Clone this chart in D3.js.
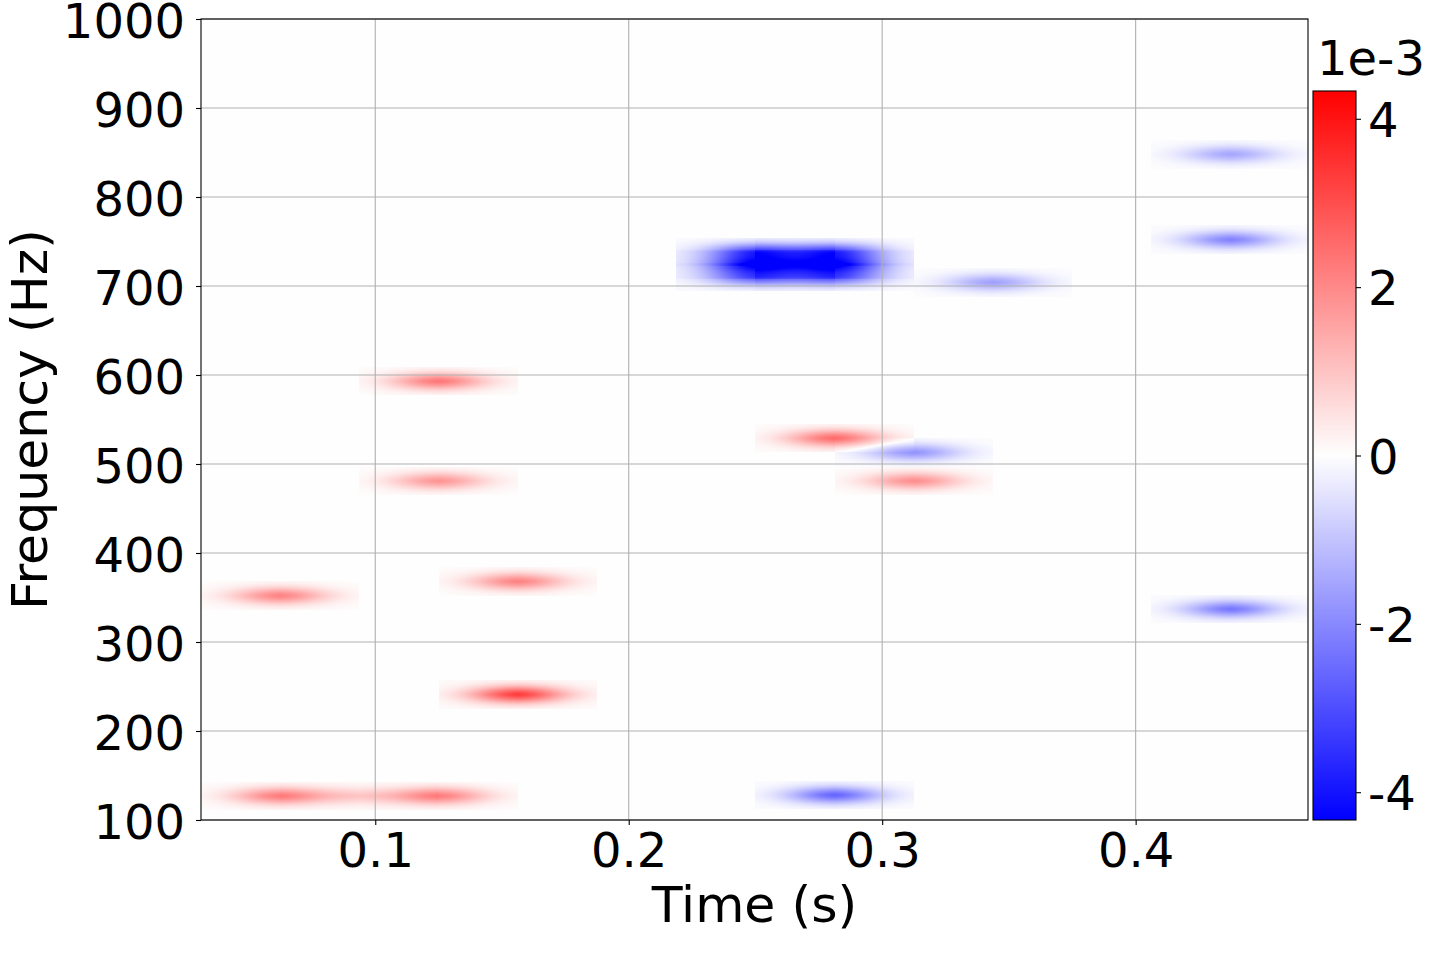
<!DOCTYPE html>
<html>
<head>
<meta charset="utf-8">
<script src="https://cdn.jsdelivr.net/npm/d3@7"></script>
<style>
  html, body { margin: 0; padding: 0; background: #ffffff; }
  svg { display: block; }
  text { font-family: "DejaVu Sans", sans-serif; fill: #000; }
</style>
</head>
<body>
<svg id="chart" width="1430" height="966"></svg>
<script>
// ---- data (time in s, frequency in Hz, amplitude in units of 1e-3) ----
const atomTime = [0.0625, 0.09375, 0.125, 0.0625, 0.125, 0.125, 0.15625, 0.15625,
                  0.28125, 0.3125, 0.3125, 0.34375, 0.28125,
                  0.4375, 0.4375, 0.4375,
                  0.25, 0.25, 0.25, 0.28125, 0.28125, 0.28125];
const atomFreq = [127, 127, 127, 352, 593, 481, 368, 241,
                  529, 481, 513, 704, 128,
                  337, 752, 848,
                  710, 724, 738, 710, 724, 738];
const atomAmp  = [2.2, 0.8, 2.2, 2.1, 2.3, 1.8, 2.1, 3.3,
                  2.5, 1.9, -1.8, -1.6, -2.6,
                  -2.3, -2.1, -1.5,
                  -2.8, -4.2, -3.3, -2.8, -4.2, -3.3];
const atomHalfTime = 0.03125;
const atomHalfFreq = 16;

const xTicks = [0.1, 0.2, 0.3, 0.4];
const yTicks = [100, 200, 300, 400, 500, 600, 700, 800, 900, 1000];
const cbTicks = [-4, -2, 0, 2, 4];
const xDomain = [0.03125, 0.468];
const yDomain = [100, 1000];
const cDomain = [-4.33, 4.33];
const xLabel = "Time (s)";
const yLabel = "Frequency (Hz)";
const cbOffsetLabel = "1e-3";

// ---- layout ----
const plot = {left: 201, top: 19, right: 1308, bottom: 820};
const cb = {left: 1313, right: 1356, top: 91, bottom: 820};
const fontSize = 48;
const labelSize = 50.5;

const svg = d3.select("#chart");
const x = d3.scaleLinear().domain(xDomain).range([plot.left, plot.right]);
const y = d3.scaleLinear().domain(yDomain).range([plot.bottom, plot.top]);
const color = d3.scaleLinear().domain([cDomain[0], 0, cDomain[1]])
  .range(["#0000ff", "#fefefe", "#ff0000"]).clamp(true);

// ---- heatmap rendered to a canvas through the scales ----
const W = plot.right - plot.left, H = plot.bottom - plot.top;
const canvas = document.createElement("canvas");
canvas.width = W; canvas.height = H;
const ctx = canvas.getContext("2d");
const img = ctx.createImageData(W, H);
function shape(u, v) {
  const au = Math.abs(u), av = Math.abs(v);
  if (au > 1 || av > 1) return 0;
  return 0.8 * Math.exp(-2.7 * (u * u + v * v)) + 0.2 * Math.exp(-2.6 * (au + av)) + 0.015;
}
for (let py = 0; py < H; py++) {
  const f = y.invert(plot.top + py + 0.5);
  for (let px = 0; px < W; px++) {
    const t = x.invert(plot.left + px + 0.5);
    let val = 0;
    for (let i = 0; i < atomTime.length; i++) {
      const u = (t - atomTime[i]) / atomHalfTime;
      const v = (f - atomFreq[i]) / atomHalfFreq;
      if (Math.abs(u) <= 1 && Math.abs(v) <= 1) val += atomAmp[i] * shape(u, v);
    }
    const c = d3.rgb(color(val));
    const k = (py * W + px) * 4;
    img.data[k] = c.r; img.data[k + 1] = c.g; img.data[k + 2] = c.b; img.data[k + 3] = 255;
  }
}
ctx.putImageData(img, 0, 0);
svg.append("image")
  .attr("x", plot.left).attr("y", plot.top)
  .attr("width", W).attr("height", H)
  .attr("preserveAspectRatio", "none")
  .attr("href", canvas.toDataURL());

// ---- grid ----
const grid = svg.append("g").attr("stroke", "#b0b0b0").attr("stroke-width", 1.1);
grid.selectAll("line.gx").data(xTicks).join("line")
  .attr("x1", d => x(d)).attr("x2", d => x(d))
  .attr("y1", plot.top).attr("y2", plot.bottom);
grid.selectAll("line.gy").data(yTicks).join("line")
  .attr("y1", d => y(d)).attr("y2", d => y(d))
  .attr("x1", plot.left).attr("x2", plot.right);

// ---- axes ----
const xAxis = d3.axisBottom(x).tickValues(xTicks).tickFormat(d3.format(".1f"))
  .tickSize(5).tickPadding(5);
const gx = svg.append("g").attr("transform", `translate(0,${plot.bottom})`).call(xAxis);
gx.select(".domain").remove();
gx.selectAll("line").attr("stroke", "#000").attr("stroke-width", 1.1);
gx.selectAll("text").attr("font-size", fontSize).attr("font-family", "DejaVu Sans")
  .attr("dy", null).attr("y", 47);

const yAxis = d3.axisLeft(y).tickValues(yTicks).tickFormat(d3.format("d"))
  .tickSize(5).tickPadding(10);
const gy = svg.append("g").attr("transform", `translate(${plot.left},0)`).call(yAxis);
gy.select(".domain").remove();
gy.selectAll("line").attr("stroke", "#000").attr("stroke-width", 1.1);
gy.selectAll("text").attr("font-size", fontSize).attr("font-family", "DejaVu Sans")
  .attr("dy", "0.39em").attr("x", -16);

// frame
svg.append("rect")
  .attr("x", plot.left).attr("y", plot.top).attr("width", W).attr("height", H)
  .attr("fill", "none").attr("stroke", "#000").attr("stroke-width", 1.1);

// axis labels
svg.append("text").attr("x", (plot.left + plot.right) / 2).attr("y", 922)
  .attr("text-anchor", "middle").attr("font-size", labelSize).text(xLabel);
svg.append("text")
  .attr("transform", `translate(47,${(plot.top + plot.bottom) / 2}) rotate(-90)`)
  .attr("text-anchor", "middle").attr("font-size", labelSize).text(yLabel);

// ---- colorbar ----
const cy = d3.scaleLinear().domain(cDomain).range([cb.bottom, cb.top]);
const defs = svg.append("defs");
const grad = defs.append("linearGradient").attr("id", "cbgrad")
  .attr("x1", 0).attr("x2", 0).attr("y1", 1).attr("y2", 0);
const stops = d3.range(0, 21).map(i => cDomain[0] + (cDomain[1] - cDomain[0]) * i / 20);
grad.selectAll("stop").data(stops).join("stop")
  .attr("offset", (d, i) => i / 20)
  .attr("stop-color", d => color(d));
svg.append("rect")
  .attr("x", cb.left).attr("y", cb.top)
  .attr("width", cb.right - cb.left).attr("height", cb.bottom - cb.top)
  .attr("fill", "url(#cbgrad)").attr("stroke", "#000").attr("stroke-width", 1.1);
const cAxis = d3.axisRight(cy).tickValues(cbTicks).tickFormat(d => d < 0 ? "-" + Math.abs(d) : String(d))
  .tickSize(5).tickPadding(7);
const gc = svg.append("g").attr("transform", `translate(${cb.right},0)`).call(cAxis);
gc.select(".domain").remove();
gc.selectAll("line").attr("stroke", "#000").attr("stroke-width", 1.1);
gc.selectAll("text").attr("font-size", fontSize).attr("font-family", "DejaVu Sans")
  .attr("dy", "0.37em");
svg.append("text").attr("x", 1317).attr("y", 75)
  .attr("font-size", fontSize).text(cbOffsetLabel);
</script>
</body>
</html>
